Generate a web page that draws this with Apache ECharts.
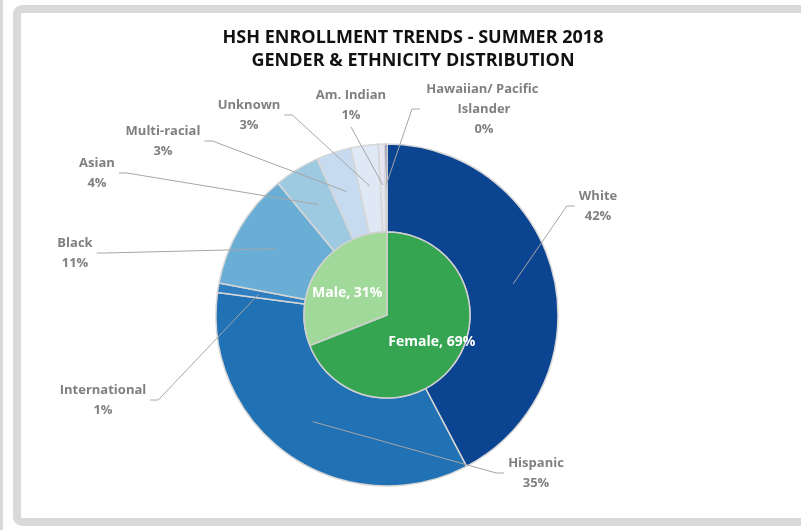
<!DOCTYPE html>
<html>
<head>
<meta charset="utf-8">
<script src="https://cdn.jsdelivr.net/npm/echarts@6/dist/echarts.min.js"></script>
<style>
  html, body { margin: 0; padding: 0; background: #fff; width: 801px; height: 530px; overflow: hidden; }
  .strip { position: absolute; left: 0; top: 0; width: 3px; height: 530px; background: #d9d9d9; }
  .panel { position: absolute; left: 13px; top: 5px; width: 900px; height: 505px; border: 8px solid #d9d9d9; border-radius: 9px; }
  #chart { position: absolute; left: 0; top: 0; width: 801px; height: 530px; }
</style>
</head>
<body>
<div class="strip"></div>
<div class="panel"></div>
<div id="chart"></div>
<script>
// gender (inner pie)
const genderNames = ['Female', 'Male'];
const genderValues = [69, 31];
// ethnicity (outer ring), clockwise from 12 o'clock
const ethnicNames = ['White', 'Hispanic', 'International', 'Black', 'Asian', 'Multi-racial', 'Unknown', 'Am. Indian', 'Hawaiian/ Pacific Islander'];
const ethnicValues = [42.3, 34.8, 0.9, 11, 4.3, 3.3, 2.6, 0.6, 0.2];

const genderColors = ['#35a552', '#a1d99b'];
const ethnicColors = ['#0b4491', '#2171b5', '#2f7fc0', '#6aaed6', '#9ecae1', '#c6dbef', '#dfe8f5', '#e6e6f2', '#4a3a80'];

// hand placed label spots (like the manually dragged labels of the original)
const labelSpots = [[598, 206], [536, 473], [103, 400], [75, 253], [97, 173], [163, 141], [249, 115], [351, 105], [484, 109]];

const chart = echarts.init(document.getElementById('chart'));

const font = "'Open Sans', sans-serif";
const center = [387, 315];
const ringR = [83, 171];
const lineStartR = 130;

// mid angle of each ring slice (clockwise from 12 o'clock)
const total = ethnicValues.reduce((a, b) => a + b, 0);
const midAngles = [];
let acc = 0;
ethnicValues.forEach(v => {
  midAngles.push((acc + v / 2) / total * Math.PI * 2);
  acc += v;
});

// leader line: from inside the slice to the side of the label, with a short flat stub
function leader(i, rect) {
  const a = midAngles[i];
  const sx = center[0] + lineStartR * Math.sin(a);
  const sy = center[1] - lineStartR * Math.cos(a);
  const cx = labelSpots[i][0], cy = labelSpots[i][1];
  const w = rect.width, h = rect.height;
  if (Math.abs(cx - sx) < w / 2) {
    // label sits right above the slice
    return [[sx, sy], [cx, cy + h / 2 + 2]];
  }
  const right = cx > sx;
  const ex = right ? cx - w / 2 - 4 : cx + w / 2 + 4;
  const bx = right ? ex - 8 : ex + 8;
  return [[sx, sy], [bx, cy], [ex, cy]];
}

const ringData = ethnicNames.map((n, i) => ({
  name: n,
  value: ethnicValues[i],
  itemStyle: { color: ethnicColors[i] },
  label: n.length > 20 ? { width: 120, overflow: 'break' } : {}
}));

chart.setOption({
  animation: false,
  title: {
    text: 'HSH ENROLLMENT TRENDS - SUMMER 2018\nGENDER & ETHNICITY DISTRIBUTION',
    left: 408,
    top: 21,
    textAlign: 'center',
    textStyle: {
      fontFamily: font,
      fontWeight: 'bold',
      fontSize: 18,
      lineHeight: 23,
      color: '#111'
    }
  },
  series: [
    {
      // ring slices
      name: 'Ethnicity',
      type: 'pie',
      z: 2,
      center: center,
      radius: ringR,
      startAngle: 90,
      itemStyle: { borderColor: '#d6d6d6', borderWidth: 1.5 },
      label: { show: false },
      labelLine: { show: false },
      data: ringData
    },
    {
      // same ring drawn see-through on top, only for labels + leader lines
      name: 'Ethnicity labels',
      type: 'pie',
      z: 5,
      silent: true,
      center: center,
      radius: ringR,
      startAngle: 90,
      avoidLabelOverlap: false,
      itemStyle: { color: 'rgba(0,0,0,0)', borderWidth: 0 },
      label: {
        show: true,
        position: 'outside',
        fontFamily: font,
        fontWeight: 'bold',
        fontSize: 13,
        lineHeight: 20,
        color: '#808080',
        align: 'center',
        formatter: p => p.name + '\n' + Math.round(p.value) + '%'
      },
      labelLine: {
        show: true,
        length: 25,
        length2: 15,
        lineStyle: { color: '#a6a6a6', width: 1 }
      },
      labelLayout: p => ({
        x: labelSpots[p.dataIndex][0],
        y: labelSpots[p.dataIndex][1],
        align: 'center',
        verticalAlign: 'middle',
        labelLinePoints: leader(p.dataIndex, p.labelRect)
      }),
      data: ringData.map(d => ({ name: d.name, value: d.value, label: d.label }))
    },
    {
      name: 'Gender',
      type: 'pie',
      z: 3,
      center: center,
      radius: [0, ringR[0]],
      startAngle: 90,
      itemStyle: { borderColor: '#d0d0d0', borderWidth: 1.5 },
      label: {
        show: true,
        position: 'inside',
        fontFamily: font,
        fontWeight: 'bold',
        fontSize: 14,
        color: '#fff',
        formatter: p => p.name + ', ' + p.value + '%'
      },
      labelLine: { show: false },
      labelLayout: p => (p.dataIndex === 0 ? { dx: 8, dy: 2 } : { dx: -3, dy: 3 }),
      data: genderNames.map((n, i) => ({
        name: n,
        value: genderValues[i],
        itemStyle: { color: genderColors[i] }
      }))
    }
  ]
});
</script>
</body>
</html>
